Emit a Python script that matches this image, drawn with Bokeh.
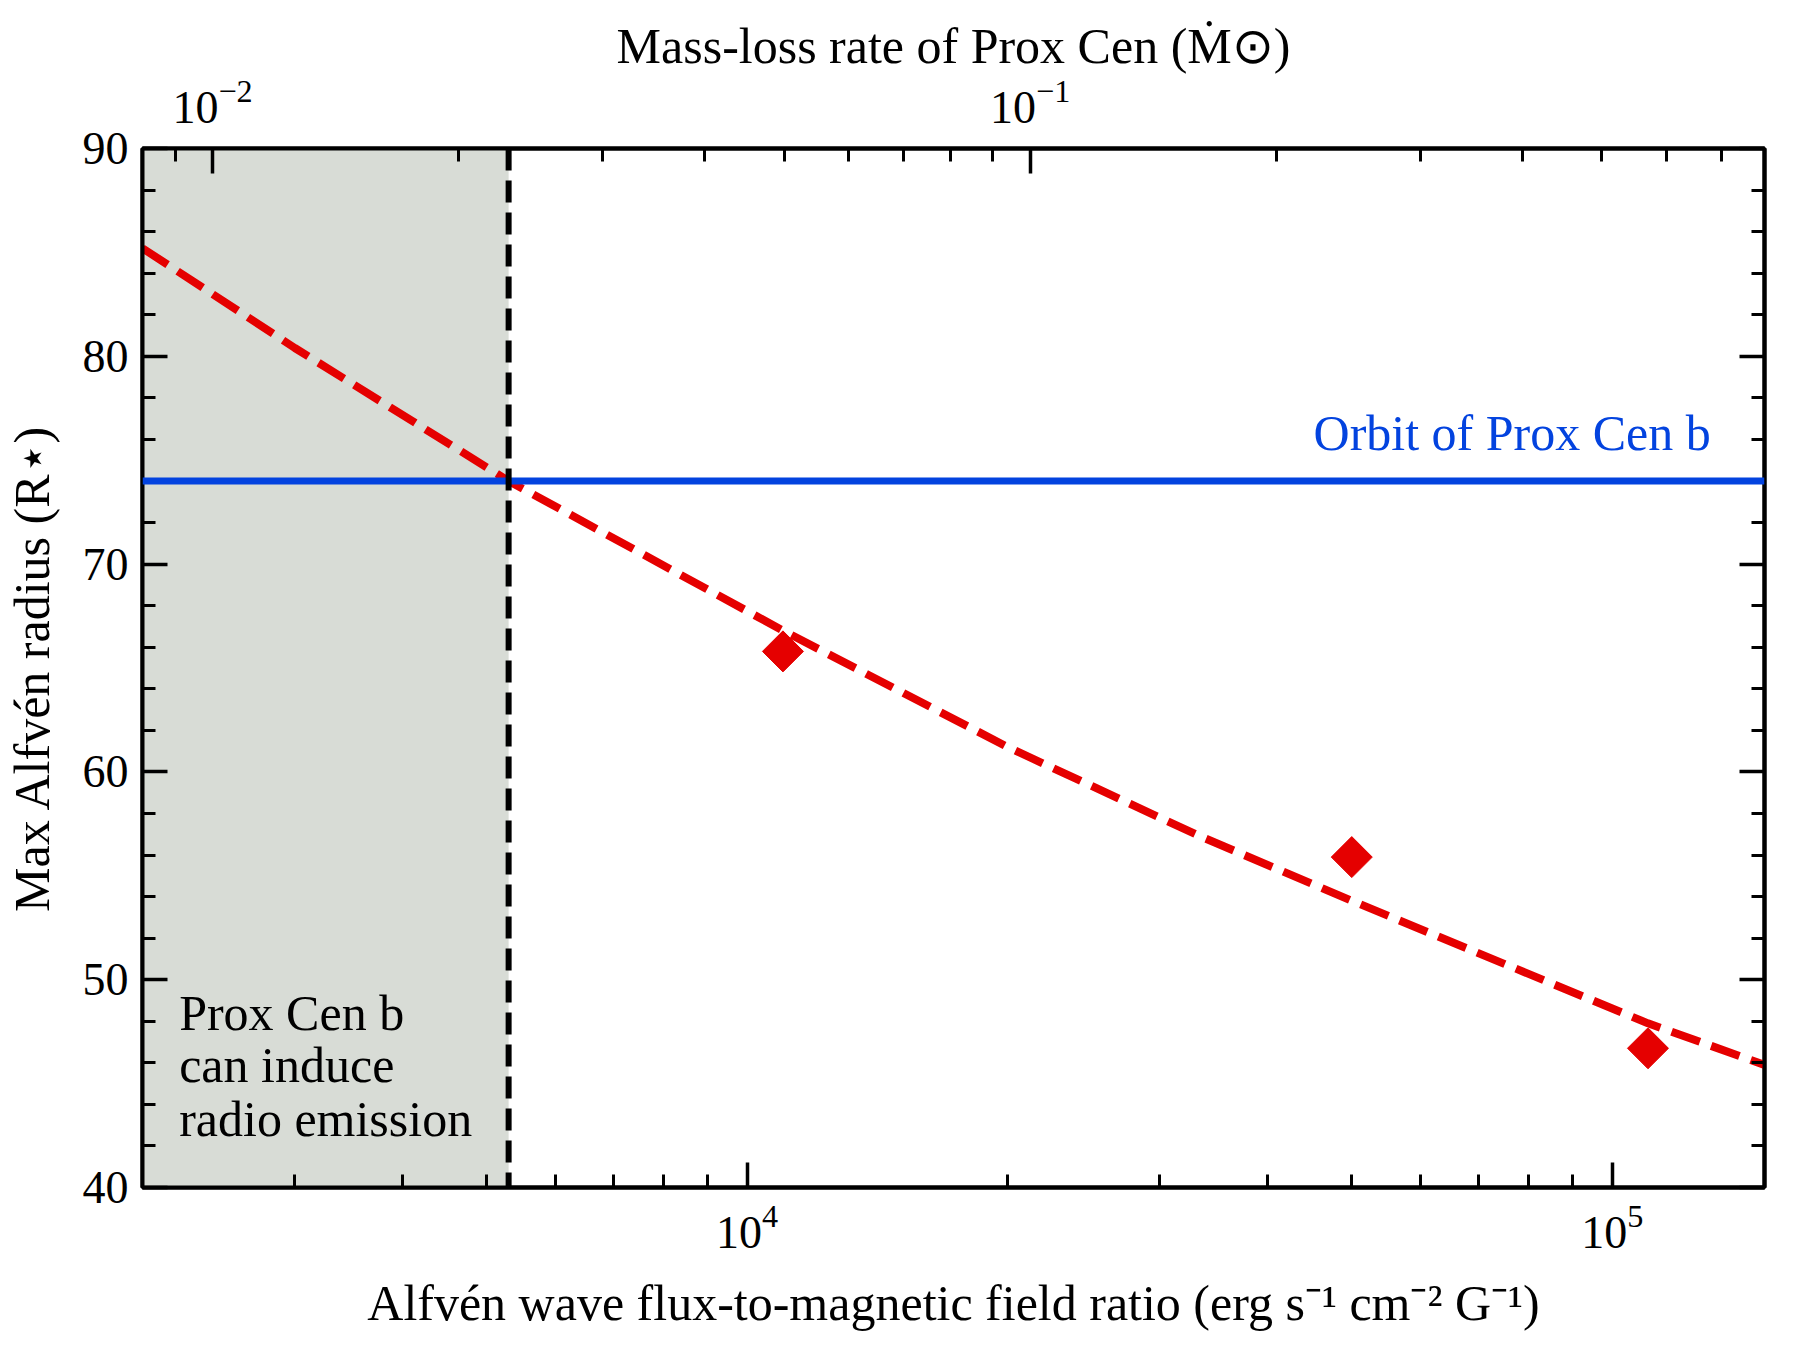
import numpy as np

from bokeh.plotting import figure
from bokeh.models import (Label, Span, BoxAnnotation, LinearAxis, LogAxis, Range1d,
                          LogScale, FixedTicker, SingleIntervalTicker)
from bokeh.embed import file_html
from bokeh.resources import INLINE


# simulation results
flux_ratio = [1.1e4, 5.0e4, 1.1e5]
alfven_radius = [65.8, 55.9, 46.7]

# fitted relation
fit_flux = [2000, 3000, 5300, 1.1e4, 2.0e4, 3.34e4, 5.0e4, 1.1e5, 1.5e5]
fit_radius = [85.2, 80.4, 74.0, 66.8, 61.2, 56.9, 53.8, 47.9, 45.9]

orbit_radius = 74.0
flux_limit = 5300

x_range = (2000, 1.5e5)
y_range = (40, 90)
mdot_range = (0.00821, 0.791)

x_major = [1e4, 1e5]
x_minor = [3000, 4000, 5000, 6000, 7000, 8000, 9000,
           20000, 30000, 40000, 50000, 60000, 70000, 80000, 90000]
mdot_major = [0.01, 0.1]
mdot_minor = [0.009, 0.02, 0.03, 0.04, 0.05, 0.06, 0.07, 0.08, 0.09,
              0.2, 0.3, 0.4, 0.5, 0.6, 0.7]

FONT = "Liberation Serif"
RED = "#e50000"
BLUE = "#0343df"


p = figure(width=1784, height=1334, x_axis_type="log", x_range=x_range, y_range=y_range,
           output_backend="svg", toolbar_location=None,
           min_border_left=135, min_border_right=20, min_border_top=148, min_border_bottom=147)
p.grid.visible = False
p.outline_line_color = "black"
p.outline_line_width = 4

p.extra_x_ranges = {"mdot": Range1d(*mdot_range)}
p.extra_x_scales = {"mdot": LogScale()}
top = LogAxis(x_range_name="mdot", axis_label="Mass-loss rate of Prox Cen (Ṁ⊙)")
p.add_layout(top, "above")
right = LinearAxis()
p.add_layout(right, "right")

bottom = p.below[0]
left = p.left[0]
bottom.axis_label = "Alfvén wave flux-to-magnetic field ratio (erg s⁻¹ cm⁻² G⁻¹)"
left.axis_label = "Max Alfvén radius (R⋆)"


def style(ax, ticker):
    ax.ticker = ticker
    ax.axis_line_width = 4
    ax.major_tick_in = 25
    ax.major_tick_out = 0
    ax.minor_tick_in = 13
    ax.minor_tick_out = 0
    ax.major_tick_line_width = 3.5
    ax.minor_tick_line_width = 3
    ax.major_label_text_font = FONT
    ax.major_label_text_font_size = "46px"
    ax.major_label_text_color = "black"
    ax.axis_label_text_font = FONT
    ax.axis_label_text_font_size = "50px"
    ax.axis_label_text_font_style = "normal"
    ax.axis_label_text_color = "black"


style(bottom, FixedTicker(ticks=x_major, minor_ticks=x_minor))
style(top, FixedTicker(ticks=mdot_major, minor_ticks=mdot_minor))
style(left, SingleIntervalTicker(interval=10, num_minor_ticks=5))
style(right, SingleIntervalTicker(interval=10, num_minor_ticks=5))
right.major_label_text_color = None
right.major_label_text_font_size = "0px"
right.major_label_standoff = 0
right.axis_label_standoff = 0

bottom.major_label_standoff = 18
bottom.axis_label_standoff = 24
top.major_label_standoff = 26
top.axis_label_standoff = 4
left.major_label_standoff = 14
left.axis_label_standoff = 20

shade = BoxAnnotation(right=flux_limit, fill_color="#d8dcd6", fill_alpha=1.0,
                      line_color=None, level="underlay")
p.add_layout(shade)

p.add_layout(Span(location=orbit_radius, dimension="width", line_color=BLUE, line_width=7))
p.add_layout(Span(location=flux_limit, dimension="height", line_color="black",
                  line_width=6, line_dash="22 10"))

p.scatter(flux_ratio, alfven_radius, marker="square", angle=np.pi / 4, size=29,
          fill_color=RED, line_color=RED)
p.line(fit_flux, fit_radius, line_color=RED, line_width=8, line_dash="30 12")

p.add_layout(Label(x=1.3e5, y=orbit_radius + 2.3, text="Orbit of Prox Cen b",
                   text_align="right", text_baseline="alphabetic", text_font=FONT,
                   text_font_size="50px", text_color=BLUE))

for txt, yy in zip(["Prox Cen b", "can induce", "radio emission"], [48.4, 45.9, 43.3]):
    p.add_layout(Label(x=2205, y=yy, text=txt, text_align="left", text_baseline="alphabetic",
                       text_font=FONT, text_font_size="50px", text_color="black"))

with open("out.html", "w", encoding="utf-8") as f:
    f.write(file_html(p, INLINE))
